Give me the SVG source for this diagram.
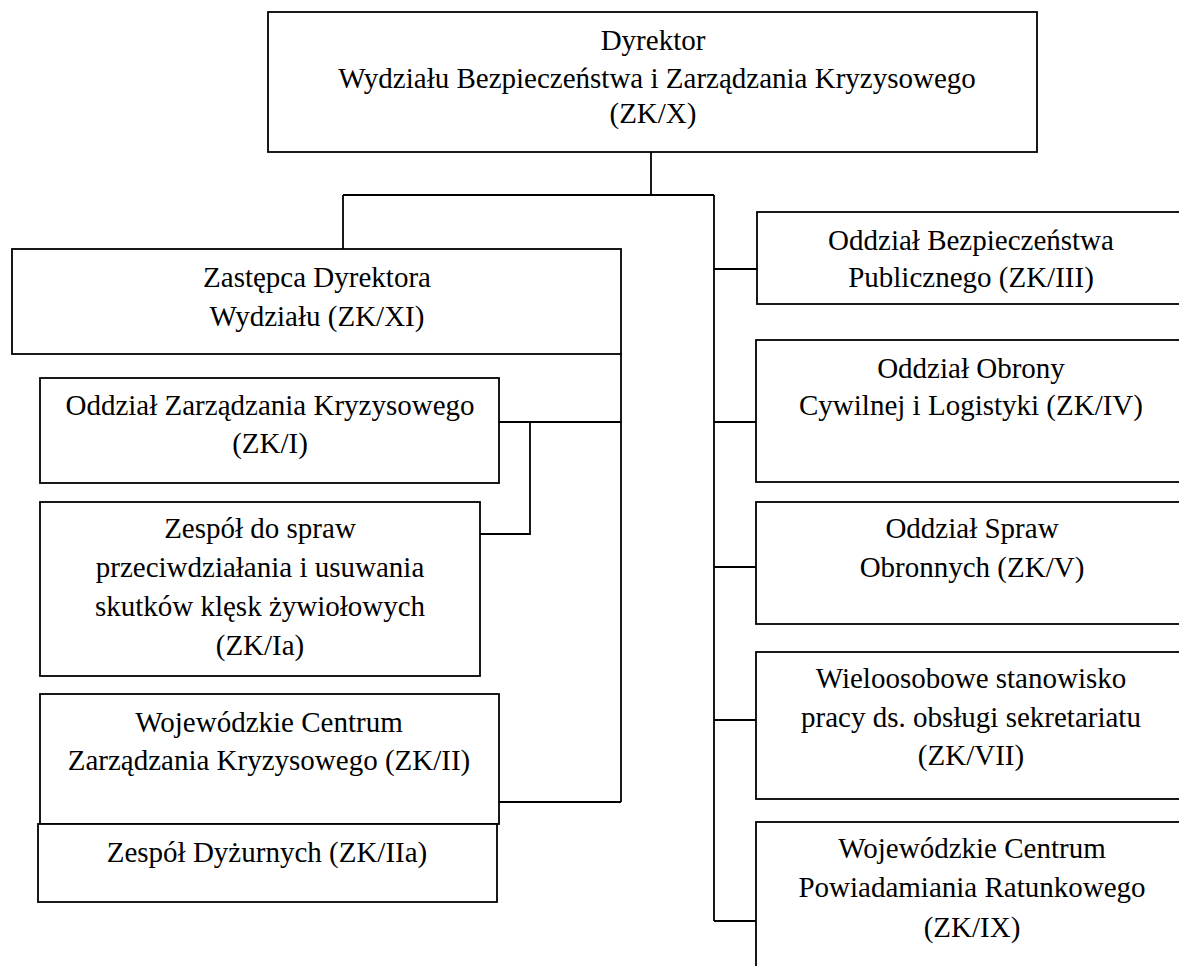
<svg xmlns="http://www.w3.org/2000/svg" width="1179" height="966" viewBox="0 0 1179 966">
<style>
.box{fill:#fff;stroke:#000;stroke-width:1.8}
.ln{fill:none;stroke:#000;stroke-width:1.8}
text{font-family:"Liberation Serif","Times New Roman",serif;font-size:29px;fill:#000;text-anchor:middle}
</style>
<rect width="1179" height="966" fill="#fff"/>
<g id="connectors">
<path class="ln" d="M651 152V195M343 195H714M343 195V249M714 195V921M714 269H757M714 422H756M714 567H756M714 720H756M714 921H756"/>
<path class="ln" d="M621 354V802M499 422H621M530 421V534H480M499 802H621"/>
</g>
<g id="n-zkx">
<rect class="box" x="268" y="12" width="769" height="140"/>
<text x="653" y="50">Dyrektor</text>
<text x="657" y="88">Wydziału Bezpieczeństwa i Zarządzania Kryzysowego</text>
<text x="653" y="123">(ZK/X)</text>
</g>
<g id="n-zkxi">
<rect class="box" x="12" y="249" width="609" height="105"/>
<text x="317" y="287">Zastępca Dyrektora</text>
<text x="317" y="326">Wydziału (ZK/XI)</text>
</g>
<g id="n-zki">
<rect class="box" x="40" y="378" width="459" height="105"/>
<text x="270" y="415">Oddział Zarządzania Kryzysowego</text>
<text x="270" y="453">(ZK/I)</text>
</g>
<g id="n-zkia">
<rect class="box" x="40" y="502" width="440" height="174"/>
<text x="260" y="538">Zespół do spraw</text>
<text x="260" y="577">przeciwdziałania i usuwania</text>
<text x="260" y="616">skutków klęsk żywiołowych</text>
<text x="260" y="655">(ZK/Ia)</text>
</g>
<g id="n-zkii">
<rect class="box" x="40" y="694" width="459" height="130"/>
<text x="269" y="732">Wojewódzkie Centrum</text>
<text x="269" y="770">Zarządzania Kryzysowego (ZK/II)</text>
</g>
<g id="n-zkiia">
<rect class="box" x="38" y="824" width="459" height="78"/>
<text x="267" y="862">Zespół Dyżurnych (ZK/IIa)</text>
</g>
<g id="n-zkiii">
<rect class="box" x="757" y="212" width="430" height="92"/>
<text x="971" y="250">Oddział Bezpieczeństwa</text>
<text x="971" y="287">Publicznego (ZK/III)</text>
</g>
<g id="n-zkiv">
<rect class="box" x="756" y="340" width="431" height="142"/>
<text x="971" y="378">Oddział Obrony</text>
<text x="971" y="415">Cywilnej i Logistyki (ZK/IV)</text>
</g>
<g id="n-zkv">
<rect class="box" x="756" y="502" width="431" height="122"/>
<text x="972" y="538">Oddział Spraw</text>
<text x="972" y="577">Obronnych (ZK/V)</text>
</g>
<g id="n-zkvii">
<rect class="box" x="756" y="652" width="431" height="147"/>
<text x="971" y="688">Wieloosobowe stanowisko</text>
<text x="971" y="727">pracy ds. obsługi sekretariatu</text>
<text x="971" y="765">(ZK/VII)</text>
</g>
<g id="n-zkix">
<rect class="box" x="756" y="822" width="431" height="160"/>
<text x="972" y="858">Wojewódzkie Centrum</text>
<text x="972" y="897">Powiadamiania Ratunkowego</text>
<text x="972" y="937">(ZK/IX)</text>
</g>
</svg>
